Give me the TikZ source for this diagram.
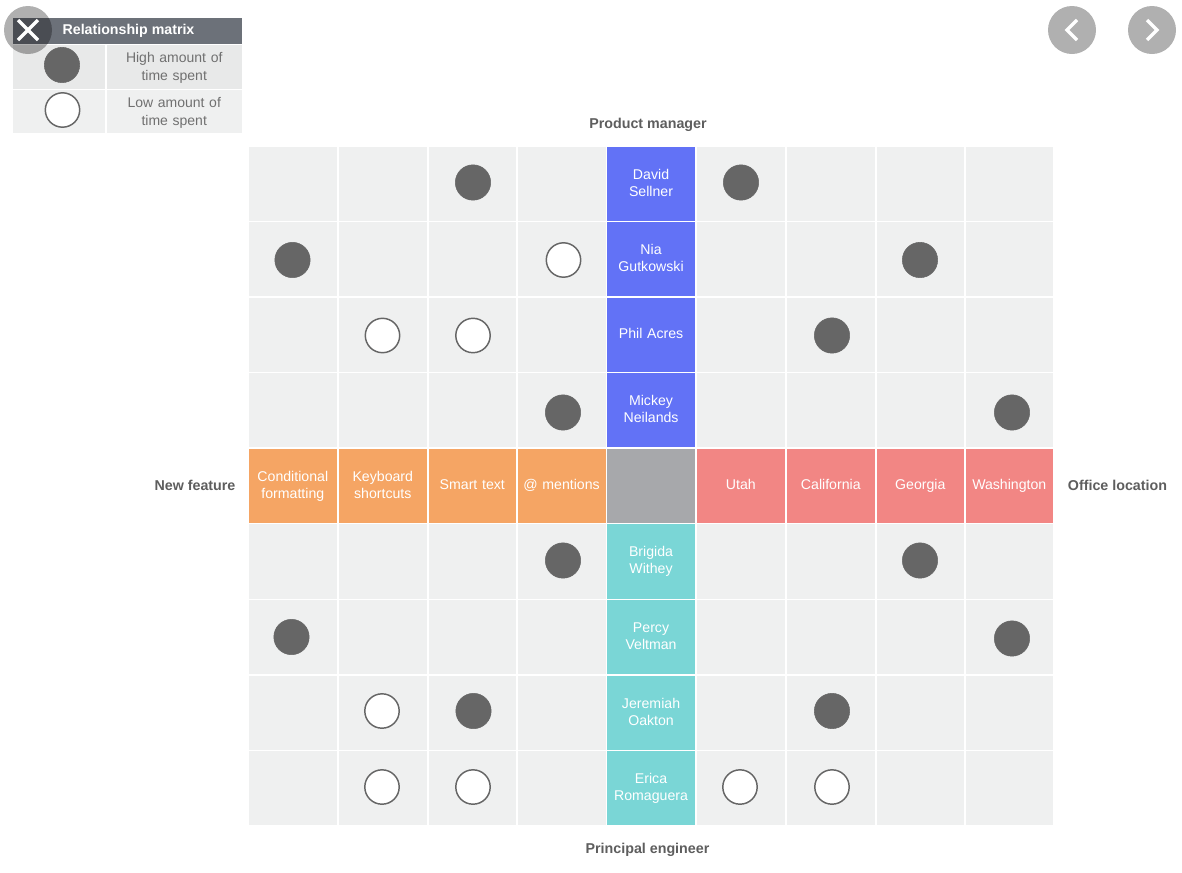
\documentclass[tikz,border=0pt]{standalone}
\usepackage{fontspec}
\setmainfont{Liberation Sans}
\definecolor{cellbg}{HTML}{EFF0F0}
\definecolor{legbg}{HTML}{E8E9E9}
\definecolor{headbg}{HTML}{6C7179}
\definecolor{dotc}{HTML}{666666}
\definecolor{blueh}{HTML}{6272F6}
\definecolor{tealh}{HTML}{7AD6D6}
\definecolor{orangeh}{HTML}{F5A564}
\definecolor{redh}{HTML}{F28684}
\definecolor{greyh}{HTML}{A7A8AB}
\definecolor{txtc}{HTML}{707070}
\definecolor{axisc}{HTML}{5E5E5E}
\tikzset{
  x=0.75pt,y=-0.75pt,
  box/.style={anchor=north west,inner sep=0pt,outer sep=0pt,align=center,text=white,text height=8pt,text depth=2.5pt,font=\fontsize{10.6pt}{12.75pt}\selectfont},
  boxtwo/.style={box,text depth=15pt},
  legcell/.style={anchor=north west,inner sep=0pt,outer sep=0pt,align=center,text=txtc,text height=8pt,text depth=14.25pt,font=\fontsize{10.5pt}{13.1pt}\selectfont},
  dotfull/.style={circle,fill=dotc,draw=dotc,line width=0.4pt,minimum size=26.5pt,inner sep=0pt},
  dotempty/.style={circle,fill=white,draw=dotc,line width=1.1pt,minimum size=25.8pt,inner sep=0pt},
  axislabel/.style={font=\bfseries\fontsize{10.7pt}{13pt}\selectfont,text=axisc,inner sep=0pt},
  navbtn/.style={circle,fill=black,fill opacity=0.31,minimum size=36pt,inner sep=0pt},
  navmark/.style={draw=white,line width=2.5pt,line cap=butt},
}
% #1 name, #2 left, #3 top, #4 right, #5 bottom, #6 style, #7 fill, #8 text
\newcommand{\mycell}[8]{%
  \pgfmathsetlengthmacro{\cw}{(#4-#2-0.4)*0.75pt}%
  \pgfmathsetlengthmacro{\ch}{(#5-#3-0.3)*0.75pt}%
  \node[#6,fill=#7,minimum width=\cw,minimum height=\ch,text width=\cw] (#1) at (#2,#3-0.3) {#8};}
\begin{document}
\begin{tikzpicture}
\useasboundingbox (0,0) rectangle (1182,872);
\fill[white] (0,0) rectangle (1182,872);
% row 1
\mycell{a1}{248.5}{147.5}{337.5}{221.5}{box}{cellbg}{}
\mycell{a2}{338.5}{147.5}{427.5}{221.5}{box}{cellbg}{}
\mycell{a3}{428.5}{147.5}{516.5}{221.5}{box}{cellbg}{}
\mycell{a4}{517.5}{147.5}{606}{221.5}{box}{cellbg}{}
\mycell{a5}{607}{147.5}{695.5}{221.5}{boxtwo}{blueh}{David\\Sellner}
\mycell{a6}{696.5}{147.5}{785.5}{221.5}{box}{cellbg}{}
\mycell{a7}{786.5}{147.5}{875.5}{221.5}{box}{cellbg}{}
\mycell{a8}{876.5}{147.5}{964.5}{221.5}{box}{cellbg}{}
\mycell{a9}{965.5}{147.5}{1053.5}{221.5}{box}{cellbg}{}
% row 2
\mycell{b1}{248.5}{222.5}{337.5}{297}{box}{cellbg}{}
\mycell{b2}{338.5}{222.5}{427.5}{297}{box}{cellbg}{}
\mycell{b3}{428.5}{222.5}{516.5}{297}{box}{cellbg}{}
\mycell{b4}{517.5}{222.5}{606}{297}{box}{cellbg}{}
\mycell{b5}{607}{222.5}{695.5}{297}{boxtwo}{blueh}{Nia\\Gutkowski}
\mycell{b6}{696.5}{222.5}{785.5}{297}{box}{cellbg}{}
\mycell{b7}{786.5}{222.5}{875.5}{297}{box}{cellbg}{}
\mycell{b8}{876.5}{222.5}{964.5}{297}{box}{cellbg}{}
\mycell{b9}{965.5}{222.5}{1053.5}{297}{box}{cellbg}{}
% row 3
\mycell{c1}{248.5}{298}{337.5}{372.5}{box}{cellbg}{}
\mycell{c2}{338.5}{298}{427.5}{372.5}{box}{cellbg}{}
\mycell{c3}{428.5}{298}{516.5}{372.5}{box}{cellbg}{}
\mycell{c4}{517.5}{298}{606}{372.5}{box}{cellbg}{}
\mycell{c5}{607}{298}{695.5}{372.5}{box}{blueh}{Phil Acres}
\mycell{c6}{696.5}{298}{785.5}{372.5}{box}{cellbg}{}
\mycell{c7}{786.5}{298}{875.5}{372.5}{box}{cellbg}{}
\mycell{c8}{876.5}{298}{964.5}{372.5}{box}{cellbg}{}
\mycell{c9}{965.5}{298}{1053.5}{372.5}{box}{cellbg}{}
% row 4
\mycell{d1}{248.5}{373.5}{337.5}{448}{box}{cellbg}{}
\mycell{d2}{338.5}{373.5}{427.5}{448}{box}{cellbg}{}
\mycell{d3}{428.5}{373.5}{516.5}{448}{box}{cellbg}{}
\mycell{d4}{517.5}{373.5}{606}{448}{box}{cellbg}{}
\mycell{d5}{607}{373.5}{695.5}{448}{boxtwo}{blueh}{Mickey\\Neilands}
\mycell{d6}{696.5}{373.5}{785.5}{448}{box}{cellbg}{}
\mycell{d7}{786.5}{373.5}{875.5}{448}{box}{cellbg}{}
\mycell{d8}{876.5}{373.5}{964.5}{448}{box}{cellbg}{}
\mycell{d9}{965.5}{373.5}{1053.5}{448}{box}{cellbg}{}
% row 5
\mycell{e1}{248.5}{449}{337.5}{523.5}{boxtwo}{orangeh}{Conditional\\formatting}
\mycell{e2}{338.5}{449}{427.5}{523.5}{boxtwo}{orangeh}{Keyboard\\shortcuts}
\mycell{e3}{428.5}{449}{516.5}{523.5}{box}{orangeh}{Smart text}
\mycell{e4}{517.5}{449}{606}{523.5}{box}{orangeh}{@ mentions}
\mycell{e5}{607}{449}{695.5}{523.5}{box}{greyh}{}
\mycell{e6}{696.5}{449}{785.5}{523.5}{box}{redh}{Utah}
\mycell{e7}{786.5}{449}{875.5}{523.5}{box}{redh}{California}
\mycell{e8}{876.5}{449}{964.5}{523.5}{box}{redh}{Georgia}
\mycell{e9}{965.5}{449}{1053.5}{523.5}{box}{redh}{Washington}
% row 6
\mycell{f1}{248.5}{524.5}{337.5}{599.5}{box}{cellbg}{}
\mycell{f2}{338.5}{524.5}{427.5}{599.5}{box}{cellbg}{}
\mycell{f3}{428.5}{524.5}{516.5}{599.5}{box}{cellbg}{}
\mycell{f4}{517.5}{524.5}{606}{599.5}{box}{cellbg}{}
\mycell{f5}{607}{524.5}{695.5}{599.5}{boxtwo}{tealh}{Brigida\\Withey}
\mycell{f6}{696.5}{524.5}{785.5}{599.5}{box}{cellbg}{}
\mycell{f7}{786.5}{524.5}{875.5}{599.5}{box}{cellbg}{}
\mycell{f8}{876.5}{524.5}{964.5}{599.5}{box}{cellbg}{}
\mycell{f9}{965.5}{524.5}{1053.5}{599.5}{box}{cellbg}{}
% row 7
\mycell{g1}{248.5}{600.5}{337.5}{675}{box}{cellbg}{}
\mycell{g2}{338.5}{600.5}{427.5}{675}{box}{cellbg}{}
\mycell{g3}{428.5}{600.5}{516.5}{675}{box}{cellbg}{}
\mycell{g4}{517.5}{600.5}{606}{675}{box}{cellbg}{}
\mycell{g5}{607}{600.5}{695.5}{675}{boxtwo}{tealh}{Percy\\Veltman}
\mycell{g6}{696.5}{600.5}{785.5}{675}{box}{cellbg}{}
\mycell{g7}{786.5}{600.5}{875.5}{675}{box}{cellbg}{}
\mycell{g8}{876.5}{600.5}{964.5}{675}{box}{cellbg}{}
\mycell{g9}{965.5}{600.5}{1053.5}{675}{box}{cellbg}{}
% row 8
\mycell{h1}{248.5}{676}{337.5}{750.5}{box}{cellbg}{}
\mycell{h2}{338.5}{676}{427.5}{750.5}{box}{cellbg}{}
\mycell{h3}{428.5}{676}{516.5}{750.5}{box}{cellbg}{}
\mycell{h4}{517.5}{676}{606}{750.5}{box}{cellbg}{}
\mycell{h5}{607}{676}{695.5}{750.5}{boxtwo}{tealh}{Jeremiah\\Oakton}
\mycell{h6}{696.5}{676}{785.5}{750.5}{box}{cellbg}{}
\mycell{h7}{786.5}{676}{875.5}{750.5}{box}{cellbg}{}
\mycell{h8}{876.5}{676}{964.5}{750.5}{box}{cellbg}{}
\mycell{h9}{965.5}{676}{1053.5}{750.5}{box}{cellbg}{}
% row 9
\mycell{i1}{248.5}{751.5}{337.5}{826}{box}{cellbg}{}
\mycell{i2}{338.5}{751.5}{427.5}{826}{box}{cellbg}{}
\mycell{i3}{428.5}{751.5}{516.5}{826}{box}{cellbg}{}
\mycell{i4}{517.5}{751.5}{606}{826}{box}{cellbg}{}
\mycell{i5}{607}{751.5}{695.5}{826}{boxtwo}{tealh}{Erica\\Romaguera}
\mycell{i6}{696.5}{751.5}{785.5}{826}{box}{cellbg}{}
\mycell{i7}{786.5}{751.5}{875.5}{826}{box}{cellbg}{}
\mycell{i8}{876.5}{751.5}{964.5}{826}{box}{cellbg}{}
\mycell{i9}{965.5}{751.5}{1053.5}{826}{box}{cellbg}{}
% markers
\node[dotfull] (m1) at (473,182.5) {};
\node[dotfull] (m2) at (741,182.5) {};
\node[dotfull] (m3) at (292.5,260) {};
\node[dotempty] (m4) at (563.5,260) {};
\node[dotfull] (m5) at (920,260) {};
\node[dotempty] (m6) at (382.5,335.5) {};
\node[dotempty] (m7) at (473,335.5) {};
\node[dotfull] (m8) at (832,335.5) {};
\node[dotfull] (m9) at (563,412.5) {};
\node[dotfull] (m10) at (1012,412.5) {};
\node[dotfull] (m11) at (563,560.5) {};
\node[dotfull] (m12) at (920,560.5) {};
\node[dotfull] (m13) at (291.5,637) {};
\node[dotfull] (m14) at (1012,638.5) {};
\node[dotempty] (m15) at (382,711) {};
\node[dotfull] (m16) at (473.5,711) {};
\node[dotfull] (m17) at (832,711) {};
\node[dotempty] (m18) at (382,787) {};
\node[dotempty] (m19) at (473,787) {};
\node[dotempty] (m20) at (740,787) {};
\node[dotempty] (m21) at (832,787) {};
% axis labels
\node[axislabel] (top) at (648,124.5) {Product manager};
\node[axislabel] (bottom) at (647.5,849.5) {Principal engineer};
\node[axislabel] (left) at (195,485) {New feature};
\node[axislabel] (right) at (1117.5,485) {Office location};
% legend
\fill[headbg] (13,18) rectangle (242,44);
\node[font=\bfseries\fontsize{10.65pt}{13pt}\selectfont,text=white,inner sep=0pt] (legtitle) at (128.5,31) {Relationship matrix};
\mycell{l1}{13}{45.7}{105.2}{89.2}{legcell}{legbg}{}
\mycell{l2}{106.5}{45.7}{242.4}{89.2}{legcell}{legbg}{High amount of\\time spent}
\mycell{l3}{13}{90.7}{105.2}{133.7}{legcell}{cellbg}{}
\mycell{l4}{106.5}{90.7}{242.4}{133.7}{legcell}{cellbg}{Low amount of\\time spent}
\node[dotfull] (l5) at (62,65) {};
\node[dotempty] (l6) at (62.5,110) {};
% close button and arrows
\node[navbtn] (closeb) at (28,30) {};
\draw[navmark] (18,20) -- (38,40) (38,20) -- (18,40);
\node[navbtn] (prevb) at (1072,30) {};
\draw[navmark,line join=miter] (1077,20) -- (1067,30) -- (1077,40);
\node[navbtn] (nextb) at (1152,30) {};
\draw[navmark,line join=miter] (1147,20) -- (1157,30) -- (1147,40);
\end{tikzpicture}
\end{document}
